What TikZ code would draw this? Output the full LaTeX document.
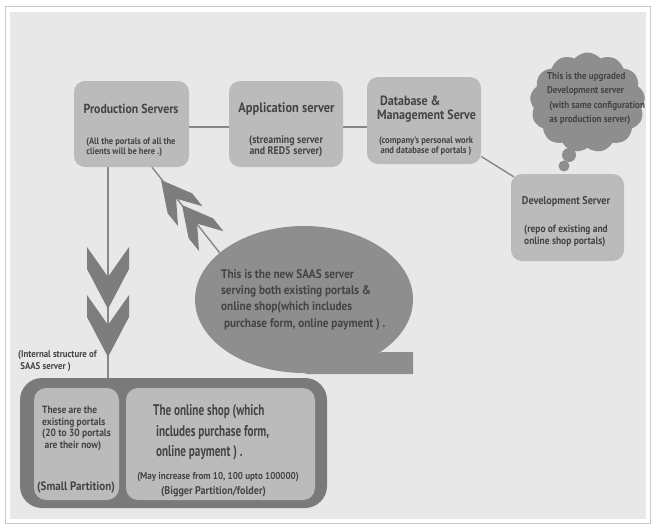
\documentclass[tikz,border=0pt]{standalone}
\usepackage{fontspec}
\setmainfont{PT Sans}[FakeStretch=0.9]
\newfontfamily\narrowf{PT Sans}[FakeStretch=0.72]
\usetikzlibrary{shapes.geometric,shapes.symbols,calc}
\definecolor{bgc}{RGB}{232,232,232}
\definecolor{boxc}{RGB}{187,187,187}
\definecolor{txtc}{RGB}{68,68,68}
\definecolor{darkc}{RGB}{142,142,142}
\definecolor{bigc}{RGB}{122,122,122}
\definecolor{chevc}{RGB}{125,125,125}
\definecolor{linec}{RGB}{135,135,135}
\definecolor{framec}{RGB}{200,200,200}
\pgfdeclarelayer{back}\pgfdeclarelayer{mid}\pgfsetlayers{back,mid,main}
\newcommand{\fsz}[2]{\bfseries\fontsize{#1}{#2}\selectfont}
\begin{document}
\begin{tikzpicture}[x=1pt,y=-1pt,
 every node/.style={text=txtc,inner sep=0pt},
 srvbox/.style={fill=boxc,rounded corners=11pt,minimum width=115pt,minimum height=86pt},
 partbox/.style={fill=boxc,rounded corners=12pt,minimum height=112pt},
 sub/.style={align=center},
 conn/.style={draw=linec,line width=1.4pt},
 chev/.pic={\fill[chevc] (0,0) -- (-21,-40) -- (-21,-62) -- (0,-32) -- (21,-62) -- (21,-40) -- cycle;}
]
\useasboundingbox (0,0) rectangle (656,530);
\begin{pgfonlayer}{back}
 \fill[white] (0,0) rectangle (656,530);
 \draw[framec,line width=1pt] (5.5,6) rectangle (650.5,523.5);
 \fill[bgc] (10,12) rectangle (646,519);
\end{pgfonlayer}

% server boxes
\node[srvbox] (prod) at (131.5,124) {};
\node[srvbox,minimum width=114pt] (app) at (286,124) {};
\node[srvbox,minimum width=114pt,minimum height=87pt] (db) at (424,120.5) {};
\node[srvbox,minimum width=113pt,minimum height=87pt] (dev) at (567.5,217.5) {};

\node[font=\fsz{13.1}{14}] (prodT) at (131,109) {Production Servers};
\node[sub,align=left,font=\fsz{9.4}{10}] (prodS) at (131,147) {(All the portals of all the\\clients will be here .)};
\node[font=\fsz{13.8}{14}] (appT) at (286.5,109) {Application server};
\node[sub,font=\fsz{11}{10.5}] (appS) at (286,146.5) {(streaming server\\and RED5 server)};
\node[align=left,font=\fsz{13.4}{14}] (dbT) at (426.5,109) {\ Database \&\\Management Serve};
\node[sub,font=\fsz{9.5}{10}] (dbS) at (426,146.5) {(company's personal work\\and database of portals )};
\node[font=\fsz{11.3}{13}] (devT) at (566,202) {Development Server};
\node[sub,align=left,font=\fsz{10.5}{12}] (devS) at (566,236) {(repo of existing and\\online shop portals)};

% thought cloud
\node[cloud,fill=darkc,cloud puffs=13,cloud puff arc=100,minimum width=115pt,minimum height=100pt,aspect=1.15] (cloud) at (587.5,102.5) {};
\fill[darkc] (569,155) circle[radius=7pt];
\fill[darkc] (564,166) circle[radius=5.5pt];
\node[font=\fsz{10}{14.3},align=left] (cloudT) at (596,98.5) {This is the upgraded\\Development server\\\ (with same configuration\\\ as production server)};

% SAAS speech bubble
\node[ellipse,fill=darkc,minimum width=218pt,minimum height=147pt] (saas) at (304,299.5) {};
\fill[darkc] (382,352) -- (413,352) -- (413,374) -- (304,374) -- cycle;
\node[font=\fsz{12.5}{16.3},align=left,anchor=west] (saasT) at (221,299.5) {This is the new SAAS server\\serving both existing portals \&\\online shop(which includes\\\ purchase form, online payment ) .};

% internal structure
\node[align=left,anchor=west,font=\fsz{9.8}{12}] (intT) at (18,361) {(Internal structure of\\\ SAAS server )};
\node[fill=bigc,rounded corners=22pt,minimum width=307pt,minimum height=130pt] (bigbox) at (173.5,443) {};
\node[partbox,minimum width=85pt] (small) at (76.5,444) {};
\node[partbox,minimum width=189pt] (bigp) at (220.5,444) {};
\node[font=\fsz{10.5}{11.6},align=left,anchor=west] (smallT) at (42,428.5) {These are the\\existing portals\\(20 to 30 portals\\\ are their now)};
\node[font=\fsz{12.25}{12}] (smallP) at (76,487) {(Small Partition)};
\node[font=\narrowf\fsz{15.5}{20.5},align=left,anchor=west] (bigT) at (153,432.5) {The online shop (which\\\ includes purchase form,\\\ online payment ) .};
\node[font=\fsz{10}{10}] (bigM) at (218,477) {(May increase from 10, 100 upto 100000)};
\node[font=\fsz{11.2}{12}] (bigP) at (213.5,492) {(Bigger Partition/folder)};

% connectors
\begin{pgfonlayer}{mid}
 \coordinate (h1) at ($(prod.east)+(0,3)$);
 \draw[conn] (h1) -- (h1 -| app.west);
 \coordinate (h2) at ($(app.east)+(0,3)$);
 \draw[conn] (h2) -- (h2 -| db.west);
 \draw[conn] ($(db.east)+(0,36)$) -- ($(dev.north west)+(3,3)$);
 \draw[conn] (saas.151) -- ($(prod.south)+(20.5,0)$);
 \coordinate (vtop) at ($(prod.south)+(-23.5,0)$);
 \draw[conn,line width=2pt] (vtop) -- (vtop |- bigbox.north);
\end{pgfonlayer}

% chevrons
\pic at (108,309) {chev};
\pic at (108,357) {chev};
\pic[rotate=219,scale=0.75] at (161,180) {chev};
\pic[rotate=219,scale=0.75] at (182,205) {chev};
\end{tikzpicture}
\end{document}
